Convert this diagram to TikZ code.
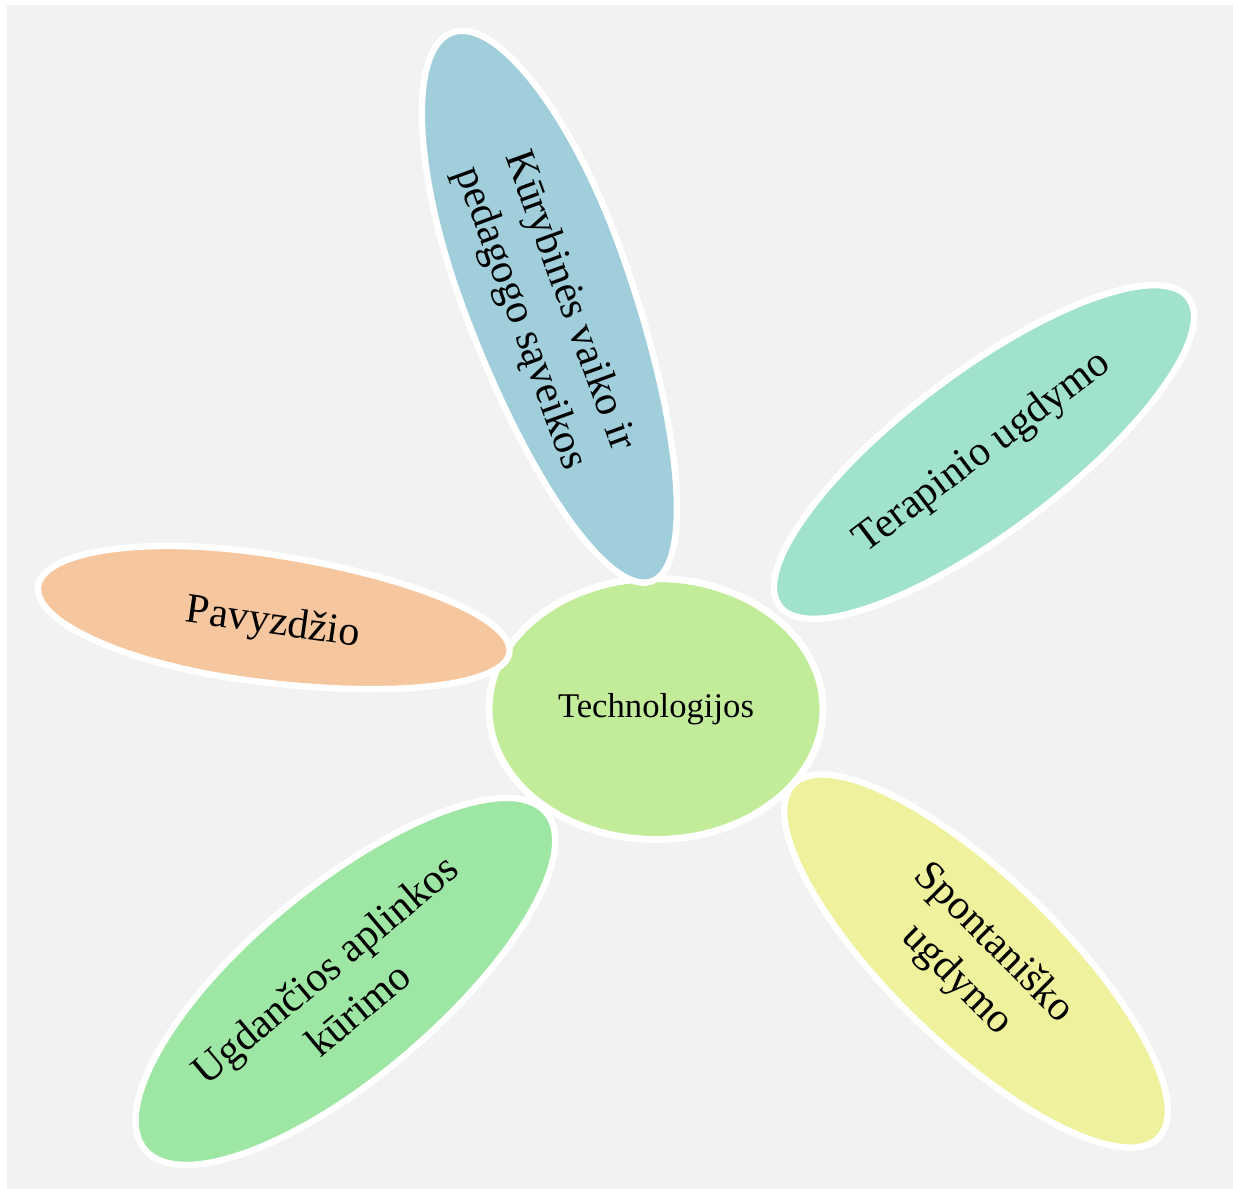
\documentclass[tikz,border=0pt]{standalone}
\usepackage{fontspec}
\setmainfont{Liberation Serif}
\usetikzlibrary{shapes.geometric}
\definecolor{bggray}{HTML}{F2F2F2}
\definecolor{cgreen}{HTML}{C3EC9A}
\definecolor{pblue}{HTML}{A0CEDB}
\definecolor{pteal}{HTML}{A0E2CD}
\definecolor{ppeach}{HTML}{F6C69E}
\definecolor{pgreen}{HTML}{9EE6A4}
\definecolor{pyellow}{HTML}{F0F19D}
\newcommand\pxu{0.75pt}
\tikzset{
  petalshape/.style={draw=white, line width=4.8pt},
  petaltext/.style={inner sep=0pt, align=center,
    font=\fontsize{31.5pt}{39pt}\selectfont, text=black},
  hub/.style={ellipse, draw=white, line width=5.2pt, inner sep=0pt,
    font=\fontsize{26pt}{30pt}\selectfont, text=black}
}
% #1,#2 centre; #3 angle; #4 half length on +x side; #5 half length on -x side; #6 half width; #7 fill
\newcommand\eggpetal[7]{%
  \begin{scope}[shift={(#1,#2)}, rotate=#3]
    \path[petalshape, fill=#7] (#4,0)
      arc[start angle=0, end angle=90, x radius=#4, y radius=#6]
      arc[start angle=90, end angle=270, x radius=#5, y radius=#6]
      arc[start angle=270, end angle=360, x radius=#4, y radius=#6] -- cycle;
  \end{scope}}
\begin{document}
\begin{tikzpicture}[x=0.75pt, y=-0.75pt]
\useasboundingbox (0,0) rectangle (1233,1189);
\fill[white] (0,0) rectangle (1233,1189);
\fill[bggray] (7,5) rectangle (1233,1189);
\node[hub, fill=cgreen, minimum width={334*\pxu}, minimum height={261*\pxu}] (hub) at (656,709) {Technologijos};
% petals
\eggpetal{540}{274}{-70}{327}{257}{84}{pblue}
\eggpetal{984}{452}{37}{256}{256}{80}{pteal}
\eggpetal{250}{616}{-8}{262}{214}{64}{ppeach}
\eggpetal{341}{985}{40}{268}{256}{95}{pgreen}
\eggpetal{976}{961}{-44}{254}{254}{84}{pyellow}
% petal texts
\node[petaltext, rotate=-70] (p1) at (544,310) {Kūrybinės vaiko ir\\pedagogo sąveikos};
\node[petaltext, rotate=37] (p2) at (983,453) {Terapinio ugdymo};
\node[petaltext, rotate=-8] (p5) at (273,624) {Pavyzdžio};
\node[petaltext, rotate=40] (p4) at (341,989) {Ugdančios aplinkos\\kūrimo};
\node[petaltext, rotate=-45] (p3) at (975,962) {Spontaniško\\ugdymo};
\end{tikzpicture}
\end{document}
